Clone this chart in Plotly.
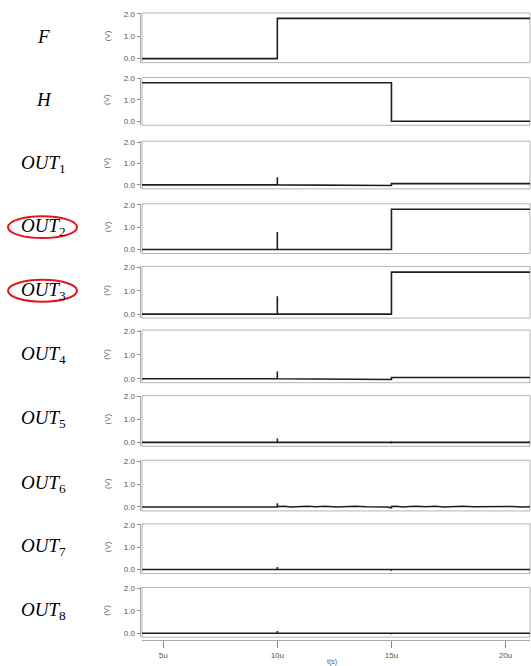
import plotly.graph_objects as go

W, H = 531, 666

# ---------------- data ----------------
label_text = ["<i>F</i>", "<i>H</i>",
              "<i>OUT</i><sub>1</sub>", "<i>OUT</i><sub>2</sub>", "<i>OUT</i><sub>3</sub>",
              "<i>OUT</i><sub>4</sub>", "<i>OUT</i><sub>5</sub>", "<i>OUT</i><sub>6</sub>",
              "<i>OUT</i><sub>7</sub>", "<i>OUT</i><sub>8</sub>"]

t_F = [4.0, 10.0, 10.0, 21.2]
v_F = [0.0, 0.0, 1.8, 1.8]

t_H = [4.0, 15.0, 15.0, 21.2]
v_H = [1.8, 1.8, 0.0, 0.0]

t_OUT1 = [4.0, 10.0, 10.0, 10.0, 10.05, 14.97, 15.0, 15.0, 15.05, 21.2]
v_OUT1 = [0.0, 0.0, 0.36, 0.01, 0.0, 0.0, -0.03, 0.06, 0.06, 0.06]

t_OUT2 = [4.0, 10.0, 10.0, 10.0, 10.05, 15.0, 15.0, 21.2]
v_OUT2 = [0.0, 0.0, 0.78, 0.02, 0.0, 0.0, 1.8, 1.8]

t_OUT3 = [4.0, 10.0, 10.0, 10.0, 10.05, 15.0, 15.0, 21.2]
v_OUT3 = [0.0, 0.0, 0.76, 0.02, 0.0, 0.0, 1.8, 1.8]

t_OUT4 = [4.0, 10.0, 10.0, 10.0, 10.05, 14.97, 15.0, 15.0, 15.05, 21.2]
v_OUT4 = [0.0, 0.0, 0.3, 0.01, 0.0, 0.0, -0.03, 0.05, 0.05, 0.05]

t_OUT5 = [4.0, 10.0, 10.0, 10.0, 10.05, 14.97, 15.0, 15.0, 15.03, 21.2]
v_OUT5 = [0.0, 0.0, 0.17, 0.01, 0.0, 0.0, -0.04, 0.01, 0.0, 0.0]

t_OUT6 = [4.0, 4.95, 5.0, 5.05, 9.98, 10.0, 10.0, 10.0, 10.1, 10.3, 10.6, 10.9,
          11.3, 11.7, 12.1, 12.6, 13.0, 13.4, 13.9, 14.4, 14.8, 15.0, 15.0,
          15.2, 15.5, 15.8, 16.1, 16.5, 16.9, 17.3, 17.7, 18.1, 18.6, 19.0,
          19.4, 19.9, 20.3, 20.7, 21.2]
v_OUT6 = [0.0, 0.0, 0.02, 0.0, 0.0, 0.0, 0.16, 0.04, 0.02, 0.03, 0.0, 0.02,
          0.03, 0.01, 0.03, 0.0, 0.02, 0.03, 0.01, 0.02, 0.0, -0.04, 0.02,
          0.03, 0.0, 0.02, 0.03, 0.01, 0.03, 0.0, 0.02, 0.03, 0.01, 0.02,
          0.0, 0.03, 0.02, 0.0, 0.01]

t_OUT7 = [4.0, 10.0, 10.0, 10.0, 10.05, 14.97, 15.0, 15.0, 15.03, 21.2]
v_OUT7 = [0.0, 0.0, 0.12, 0.01, 0.0, 0.0, -0.05, 0.0, 0.0, 0.0]

t_OUT8 = [4.0, 10.0, 10.0, 10.0, 10.05, 14.97, 15.0, 15.0, 15.03, 21.2]
v_OUT8 = [0.0, 0.0, 0.1, 0.01, 0.0, 0.0, -0.04, 0.0, 0.0, 0.0]

series_t = [t_F, t_H, t_OUT1, t_OUT2, t_OUT3, t_OUT4, t_OUT5, t_OUT6, t_OUT7, t_OUT8]
series_v = [v_F, v_H, v_OUT1, v_OUT2, v_OUT3, v_OUT4, v_OUT5, v_OUT6, v_OUT7, v_OUT8]

x_tickvals = [5, 10, 15, 20]
x_ticktext = ["5u", "10u", "15u", "20u"]
y_tickvals = [0, 1, 2]
y_ticktext = ["0.0", "1.0", "2.0"]
circled = [3, 4]

# ---------------- layout geometry (pixels) ----------------
tops_px = [11, 76, 140, 203, 266, 330, 396, 461, 525, 589]
zeros_px = [56, 119, 183, 248, 313, 378, 442, 507, 570, 634]
XL, XR = 142, 530
XRANGE = [4.07, 21.07]

def px_x(p):
    return p / W

def px_y(p):
    return 1 - p / H

fig = go.Figure()
layout = dict(width=W, height=H, margin=dict(l=0, r=0, t=0, b=0),
              paper_bgcolor="white", plot_bgcolor="white", showlegend=False)
shapes = []
annotations = []
tick_font = dict(family="Liberation Sans, Arial", size=8, color="#555555")

n = len(series_t)
for i in range(n):
    sfx = "" if i == 0 else str(i + 1)
    top, zero = tops_px[i], zeros_px[i]
    ppv = (zero - top) / 2.0
    fb = zero + 4
    ft = top - 1
    ymin = -(fb - zero) / ppv
    ymax = 2.0 + (top - ft) / ppv
    fig.add_trace(go.Scatter(x=series_t[i], y=series_v[i], mode="lines",
                             line=dict(color="#1e1e1e", width=1.6),
                             xaxis="x" + sfx, yaxis="y" + sfx, hoverinfo="skip"))
    last = (i == n - 1)
    xa = dict(domain=[px_x(XL), px_x(XR)], range=XRANGE, showgrid=False,
              zeroline=False, showline=False, ticks="", showticklabels=False,
              fixedrange=True)
    if last:
        xa.update(anchor="free", position=px_y(641), showline=True,
                  linecolor="#aaaaaa", linewidth=1,
                  ticks="outside", ticklen=7, tickcolor="#888888",
                  tickvals=x_tickvals, ticktext=x_ticktext,
                  showticklabels=True, tickfont=tick_font)
    else:
        xa.update(anchor="y" + sfx)
    if i > 0:
        xa["matches"] = "x"
    ya = dict(domain=[px_y(fb), px_y(ft)], range=[ymin, ymax], anchor="free",
              position=px_x(139.5), showgrid=False, zeroline=False,
              showline=True, linecolor="#aaaaaa", linewidth=1,
              ticks="outside", ticklen=3, tickcolor="#888888",
              tickvals=y_tickvals, ticktext=y_ticktext, tickfont=tick_font,
              fixedrange=True)
    layout["xaxis" + sfx] = xa
    layout["yaxis" + sfx] = ya
    # panel frame
    shapes.append(dict(type="rect", xref="paper", yref="paper",
                       x0=px_x(XL), x1=px_x(XR), y0=px_y(fb), y1=px_y(ft),
                       line=dict(color="#b4b4b4", width=1), layer="below"))
    mid = (top + zero) / 2.0
    annotations.append(dict(text=label_text[i], xref="paper", yref="paper",
                            x=px_x(43.5), y=px_y(mid), xanchor="center",
                            yanchor="middle", showarrow=False,
                            font=dict(family="Liberation Serif, Times New Roman",
                                      size=19, color="black")))
    annotations.append(dict(text="(V)", xref="paper", yref="paper",
                            x=px_x(107), y=px_y(mid), xanchor="center",
                            yanchor="middle", showarrow=False, textangle=-90,
                            font=dict(family="Liberation Sans, Arial", size=8,
                                      color="#666666")))
    if i in circled:
        shapes.append(dict(type="circle", xref="paper", yref="paper",
                           x0=px_x(8), x1=px_x(77),
                           y0=px_y(mid + 11), y1=px_y(mid - 11),
                           line=dict(color="#e3141c", width=2)))

annotations.append(dict(text="t(s)", xref="paper", yref="paper",
                        x=px_x(332), y=px_y(663), xanchor="center",
                        yanchor="middle", showarrow=False,
                        font=dict(family="Liberation Sans, Arial", size=7,
                                  color="#555555")))

layout["shapes"] = shapes
layout["annotations"] = annotations
fig.update_layout(**layout)
fig.write_html("out.html", config={"displayModeBar": False},
               post_script="document.body.style.margin='0';document.body.style.padding='0';")
